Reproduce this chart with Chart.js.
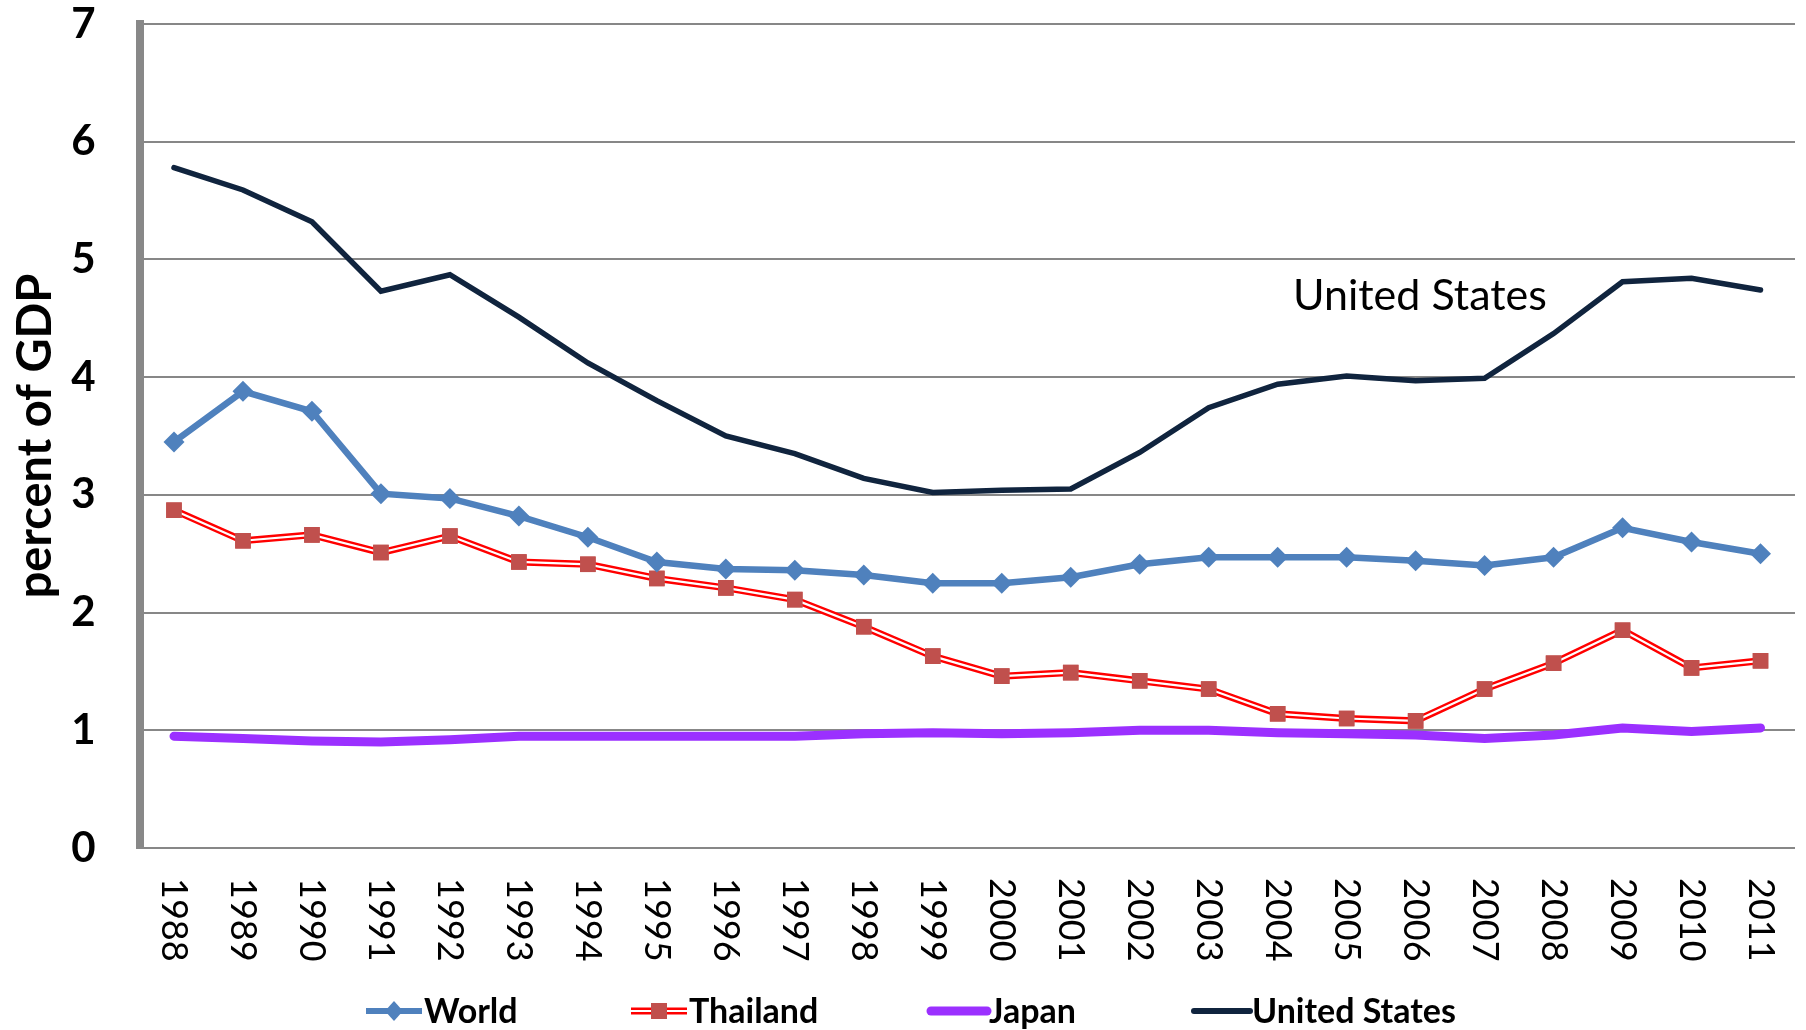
<!DOCTYPE html>
<html>
<head>
<meta charset="utf-8">
<script src="https://cdn.jsdelivr.net/npm/chart.js@4/dist/chart.umd.min.js"></script>
<style>
  html, body { margin: 0; padding: 0; background: #fff; }
  #wrap { width: 1806px; height: 1030px; position: relative; }
</style>
</head>
<body>
<div id="wrap"><canvas id="gdpChart"></canvas></div>
<script>
// ข้อมูลกราฟ (percent of GDP)
const years = ["1988","1989","1990","1991","1992","1993","1994","1995","1996","1997","1998","1999",
  "2000","2001","2002","2003","2004","2005","2006","2007","2008","2009","2010","2011"];
const world = [3.45,3.88,3.71,3.01,2.97,2.82,2.64,2.43,2.37,2.36,2.32,2.25,
  2.25,2.30,2.41,2.47,2.47,2.47,2.44,2.40,2.47,2.72,2.60,2.50];
const thailand = [2.87,2.61,2.66,2.51,2.65,2.43,2.41,2.29,2.21,2.11,1.88,1.63,
  1.46,1.49,1.42,1.35,1.14,1.10,1.08,1.35,1.57,1.85,1.53,1.59];
const japan = [0.95,0.93,0.91,0.90,0.92,0.95,0.95,0.95,0.95,0.95,0.97,0.98,
  0.97,0.98,1.00,1.00,0.98,0.97,0.96,0.93,0.96,1.02,0.99,1.02];
const unitedStates = [5.78,5.59,5.32,4.73,4.87,4.51,4.12,3.80,3.50,3.35,3.14,3.02,
  3.04,3.05,3.36,3.74,3.94,4.01,3.97,3.99,4.37,4.81,4.84,4.74];
const yTicks = [0,1,2,3,4,5,6,7];

const FONT = "Lato, 'Open Sans', sans-serif";

// เส้นขาวตรงกลางของ Thailand (เส้นคู่) แล้ววาดจุดทับอีกครั้ง
const doubleLinePlugin = {
  id: "doubleLine",
  afterDatasetDraw(chart, args) {
    if (args.index !== 1) return;
    const ctx = chart.ctx;
    const pts = args.meta.data;
    ctx.save();
    ctx.beginPath();
    pts.forEach((p, i) => i ? ctx.lineTo(p.x, p.y) : ctx.moveTo(p.x, p.y));
    ctx.strokeStyle = "#ffffff";
    ctx.lineWidth = 2.2;
    ctx.lineJoin = "round";
    ctx.stroke();
    ctx.restore();
    pts.forEach(p => p.draw(ctx));
  }
};

// ป้ายแกน x หมุนตามเข็มนาฬิกา, ป้าย United States และ legend
const extrasPlugin = {
  id: "extras",
  afterDraw(chart) {
    const ctx = chart.ctx;
    const xs = chart.scales.x;
    ctx.save();
    ctx.fillStyle = "#000";
    ctx.font = "36px " + FONT;
    ctx.textAlign = "left";
    ctx.textBaseline = "middle";
    years.forEach((y, i) => {
      ctx.save();
      ctx.translate(xs.getPixelForTick(i), 878);
      ctx.rotate(Math.PI / 2);
      ctx.fillText(y, 0, 0);
      ctx.restore();
    });

    ctx.font = "43px " + FONT;
    ctx.fillText("United States", 1293, 296);

    // legend
    const ly = 1011;
    const items = [
      { label: "World", x: 366, color: "#4F81BD", width: 6, marker: "diamond" },
      { label: "Thailand", x: 631, color: "#FF0000", width: 7, marker: "square" },
      { label: "Japan", x: 931, color: "#9B30FF", width: 9, marker: null },
      { label: "United States", x: 1194, color: "#10243E", width: 6, marker: null }
    ];
    items.forEach(it => {
      const x1 = it.x, x2 = it.x + 56;
      ctx.beginPath();
      ctx.moveTo(x1, ly);
      ctx.lineTo(x2, ly);
      ctx.strokeStyle = it.color;
      ctx.lineWidth = it.width;
      ctx.lineCap = it.marker ? "butt" : "round";
      ctx.stroke();
      const cx = (x1 + x2) / 2;
      if (it.marker === "square") {
        ctx.beginPath();
        ctx.moveTo(x1, ly); ctx.lineTo(x2, ly);
        ctx.strokeStyle = "#fff"; ctx.lineWidth = 2.2; ctx.stroke();
        ctx.fillStyle = "#C0504D";
        ctx.fillRect(cx - 8, ly - 8, 16, 16);
      } else if (it.marker === "diamond") {
        ctx.fillStyle = "#4F81BD";
        ctx.beginPath();
        ctx.moveTo(cx, ly - 10); ctx.lineTo(cx + 9, ly); ctx.lineTo(cx, ly + 10); ctx.lineTo(cx - 9, ly);
        ctx.closePath(); ctx.fill();
      }
      ctx.fillStyle = "#000";
      ctx.font = "bold 34px " + FONT;
      ctx.textBaseline = "middle";
      ctx.fillText(it.label, x2 + 2, ly + 1);
    });
    ctx.restore();
  }
};

const ctx = document.getElementById("gdpChart");
new Chart(ctx, {
  type: "line",
  data: {
    labels: years,
    datasets: [
      {
        label: "World", data: world,
        borderColor: "#4F81BD", borderWidth: 6.5,
        pointStyle: "rectRot", pointRadius: 10.5,
        pointBackgroundColor: "#4F81BD", pointBorderWidth: 0
      },
      {
        label: "Thailand", data: thailand,
        borderColor: "#FF0000", borderWidth: 7,
        pointStyle: "rect", pointRadius: 11,
        pointBackgroundColor: "#C0504D", pointBorderWidth: 0
      },
      {
        label: "Japan", data: japan,
        borderColor: "#9B30FF", borderWidth: 9,
        pointRadius: 0, borderCapStyle: "round"
      },
      {
        label: "United States", data: unitedStates,
        borderColor: "#10243E", borderWidth: 5.5,
        pointRadius: 0, borderCapStyle: "round"
      }
    ]
  },
  options: {
    responsive: true,
    maintainAspectRatio: false,
    animation: false,
    layout: { padding: { top: 24, right: 0, left: 0, bottom: 0 } },
    plugins: {
      legend: { display: false },
      tooltip: { enabled: false }
    },
    scales: {
      x: {
        offset: true,
        grid: { display: false },
        border: { display: false },
        ticks: { display: false },
        afterFit(scale) { scale.height = 182; }
      },
      y: {
        min: 0, max: 7,
        afterBuildTicks(scale) { scale.ticks = yTicks.map(v => ({ value: v })); },
        grid: { color: "#878787", lineWidth: 2, drawTicks: false },
        border: { color: "#888888", width: 8 },
        ticks: {
          color: "#000", padding: 44,
          font: { family: FONT, size: 42, weight: "bold" }
        },
        title: {
          display: true, text: "percent of GDP", color: "#000",
          font: { family: FONT, size: 47, weight: "bold" },
          padding: { top: 8, bottom: 0 }
        },
        afterFit(scale) {
          scale.width = 139.5;
          scale.paddingTop = 0;
          scale.paddingBottom = 0;
        }
      }
    }
  },
  plugins: [doubleLinePlugin, extrasPlugin]
});
</script>
</body>
</html>
